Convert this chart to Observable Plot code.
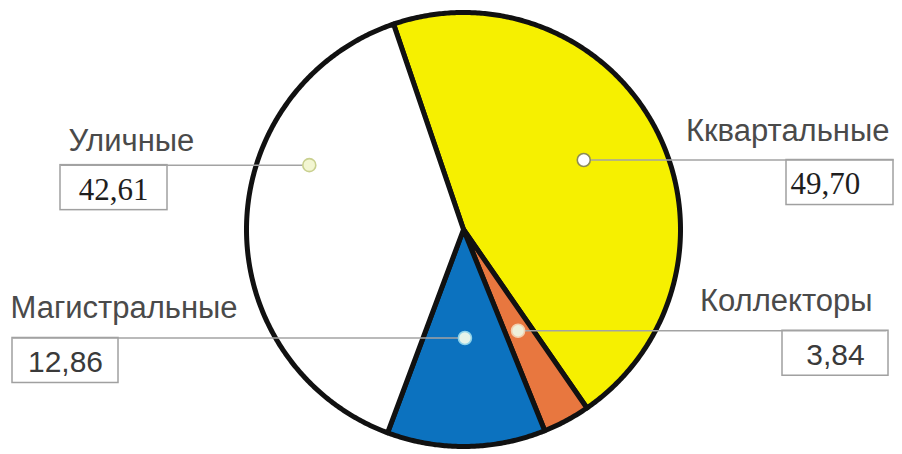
<!DOCTYPE html>
<html><head><meta charset="utf-8">
<script src="https://cdn.jsdelivr.net/npm/d3@7"></script>
<script src="https://cdn.jsdelivr.net/npm/@observablehq/plot@0.6"></script>
<style>body{margin:0;background:#fff}#chart svg{display:block}</style>
</head><body><div id="chart"></div>
<script>
// ---- data ----
const categories = ["Кквартальные", "Коллекторы", "Магистральные", "Уличные"];
const values = [49.70, 3.84, 12.86, 42.61];
const valueLabels = ["49,70", "3,84", "12,86", "42,61"];

// ---- style / layout ----
const colors = ["#f6f000", "#e8773f", "#0c72bf", "#ffffff"];
const dotFill = ["#ffffff", "#eef0da", "#e6f4ea", "#f3f6d2"];
const dotStroke = ["#8d8d55", "#f3cfae", "#8fd3ea", "#c9d08f"];
const W = 902, H = 454, cx = 463, cy = 229, R = 217;
const startDeg = -18.8;
const labelFrac = [0.48, 0.5, 0.5, 0.655];
const labelRad = [0.64, 0.53, 0.5, 0.77];
const boxX = [[786, 893], [782, 888], [12, 118], [60, 167]];
const lineEnd = [893, 886, 12, 60];
const nameX = [889, 872, 10, 68];
const nameAnchor = ["end", "end", "start", "start"];
const nameUp = [19, 20, 20, 14];
const numX = [790, 835, 65, 113];
const numAnchor = ["start", "middle", "middle", "middle"];
const numSerif = [true, false, false, true];
const boxH = 45;

const s0 = startDeg * Math.PI / 180;
const arcs = d3.pie().sort(null).startAngle(s0).endAngle(s0 + 2 * Math.PI)(values);

const pt = (ang, r) => [cx + r * Math.sin(ang), cy - r * Math.cos(ang)];

const slices = arcs.map((a, i) => {
  const pts = [[cx, cy]];
  const n = Math.max(8, Math.ceil((a.endAngle - a.startAngle) / (Math.PI / 360)));
  for (let k = 0; k <= n; k++) {
    const ang = a.startAngle + (a.endAngle - a.startAngle) * k / n;
    pts.push(pt(ang, R));
  }
  pts.push([cx, cy]);
  return pts.map(([x, y]) => ({x, y, cat: categories[i], color: colors[i]}));
});

const rows = categories.map((c, i) => {
  const a = arcs[i];
  const ang = a.startAngle + labelFrac[i] * (a.endAngle - a.startAngle);
  const [dx, dy] = pt(ang, labelRad[i] * R);
  return {
    cat: c, label: valueLabels[i], dx, dy,
    lx: lineEnd[i], bx1: boxX[i][0], bx2: boxX[i][1], by1: dy, by2: dy + boxH,
    nx: nameX[i], ny: dy - nameUp[i], nAnchor: nameAnchor[i],
    vx: numX[i], vy: dy + boxH / 2 + 2, vAnchor: numAnchor[i], serif: numSerif[i],
    dotFill: dotFill[i], dotStroke: dotStroke[i]
  };
});

const marks = [];
slices.forEach((pts, i) => {
  marks.push(Plot.line(pts, {x: "x", y: "y", fill: colors[i], stroke: "#111", strokeWidth: 5, strokeLinejoin: "round", curve: "linear"}));
});
marks.push(Plot.rect(rows, {x1: "bx1", x2: "bx2", y1: "by1", y2: "by2", fill: "white", stroke: "#a0a0a0", strokeWidth: 1.5}));
marks.push(Plot.link(rows, {x1: "dx", x2: "lx", y1: "dy", y2: "dy", stroke: "#a3a3a3", strokeWidth: 1.5}));
marks.push(Plot.dot(rows, {x: "dx", y: "dy", r: 6.5, fill: "dotFill", stroke: "dotStroke", strokeWidth: 1.6}));
["start", "end"].forEach(anch => {
  marks.push(Plot.text(rows.filter(d => d.nAnchor === anch), {x: "nx", y: "ny", text: "cat", textAnchor: anch, lineAnchor: "bottom", fontSize: 31, fontFamily: "Liberation Sans, Arial, sans-serif", fill: "#4a4a4a"}));
});
[true, false].forEach(serif => {
  ["start", "middle"].forEach(anch => {
    const sub = rows.filter(d => d.serif === serif && d.vAnchor === anch);
    if (sub.length) marks.push(Plot.text(sub, {x: "vx", y: "vy", text: "label", textAnchor: anch, lineAnchor: "middle", fontSize: serif ? 31 : 30, fontFamily: serif ? "Liberation Serif, Times New Roman, serif" : "Liberation Sans, Arial, sans-serif", fill: serif ? "#1e1e1e" : "#3a3a3a"}));
  });
});

const chart = Plot.plot({
  width: W, height: H, margin: 0,
  x: {domain: [0, W], range: [0, W], axis: null},
  y: {domain: [0, H], range: [0, H], axis: null},
  color: {type: "identity"},
  style: {background: "white", overflow: "visible"},
  marks
});
document.getElementById("chart").appendChild(chart);
</script>
</body></html>
